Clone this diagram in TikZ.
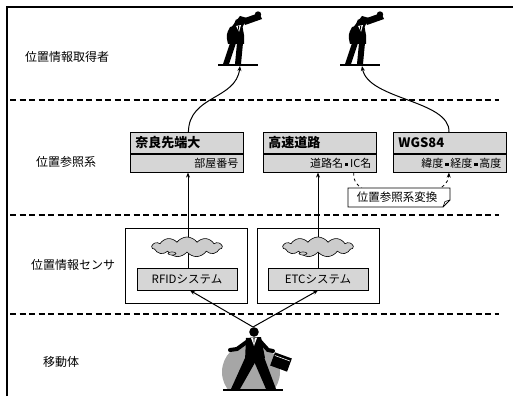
\documentclass[tikz,border=0pt]{standalone}
\usepackage{fontspec}
\setmainfont{Noto Sans CJK JP}
\usetikzlibrary{arrows.meta,shapes.symbols,calc}

\definecolor{boxgray}{HTML}{D6D6D6}
\definecolor{cloudgray}{HTML}{CCCCCC}
\definecolor{diskgray}{HTML}{A6A6A6}

\newcommand{\sq}{\,\rule[0.25ex]{0.3em}{0.3em}\,}

\tikzset{
  layerline/.style={dashed, line width=1.6pt, dash pattern=on 6pt off 3.5pt},
  framestyle/.style={line width=1.2pt},
  layerlabel/.style={font=\fontsize{12}{14}\selectfont, inner sep=0pt},
  titlebox/.style={draw, line width=0.8pt, fill=boxgray, minimum height=21pt,
    text width=103pt, inner xsep=5pt, align=left, font=\fontsize{13}{15}\selectfont\bfseries},
  subbox/.style={draw, line width=0.8pt, fill=boxgray, minimum height=18pt,
    text width=103pt, inner xsep=5pt, align=right, font=\fontsize{11}{13}\selectfont},
  outerbox/.style={draw, line width=0.8pt, minimum width=122pt, minimum height=75pt},
  sensorbox/.style={draw, line width=0.8pt, fill=boxgray, minimum width=100pt,
    minimum height=22pt, font=\fontsize{11.5}{13}\selectfont},
  cloudshape/.style={cloud, cloud puffs=11, cloud puff arc=110, aspect=3.5, draw,
    line width=0.6pt, fill=cloudgray, minimum width=70pt, minimum height=20pt, inner sep=0pt},
  arr/.style={line width=1pt, -{Stealth[length=5pt,width=4pt]}},
  pics/observer/.style={code={
    % platform
    \draw[line width=2pt] (-20,0) -- (20,0);
    % legs
    \fill (-15,-1) -- (-8,-22) -- (-2,-22) -- (-9,-1) -- cycle;
    \fill (-3,-1) -- (-1,-22) -- (5,-22) -- (3,-1) -- cycle;
    % torso
    \fill (-10,-21) .. controls (-12,-30) .. (-8,-38) -- (4,-41) -- (6,-30) -- (6,-21) -- cycle;
    % head
    \fill (1,-42) circle (4.5);
    % arms raised to the binoculars
    \fill (-8,-36) -- (2,-49) -- (9,-47) -- (2,-33) -- cycle;
    % binoculars
    \fill (4,-46) -- (21,-52) -- (24,-46) -- (7,-40) -- cycle;
    \fill (20,-50.5) circle (3.2);
    % shirt and tie
    \fill[white] (-2,-39) -- (3,-40) -- (1,-33) -- cycle;
    \fill (0,-39) -- (1.2,-39) -- (0.5,-33) -- cycle;
  }}
}

\begin{document}
\begin{tikzpicture}[x=1pt, y=-1pt]
\useasboundingbox (0,0) rectangle (513,396);

% outer frame (top and left edges)
\draw[framestyle] (7,396) -- (7,7) -- (513,7);

% layer separators
\draw[layerline] (10,100) -- (499,100);
\draw[layerline] (10,215) -- (499,215);
\draw[layerline] (10,314) -- (499,314);

% layer labels
\node[layerlabel] (lblObserver) at (67,57) {位置情報取得者};
\node[layerlabel] (lblRef) at (66,162) {位置参照系};
\node[layerlabel] (lblSensor) at (73,265) {位置情報センサ};
\node[layerlabel] (lblMobile) at (61,362) {移動体};

% observers
\pic (obsA) at (238,65) {observer};
\pic (obsB) at (360,65) {observer};
\coordinate (obsAfoot) at (240,66);
\coordinate (obsBfoot) at (362,66);

% reference systems
\node[titlebox, anchor=north west] (naraT) at (130,132) {奈良先端大};
\node[subbox, anchor=north] (naraS) at (naraT.south) {部屋番号};
\node[titlebox, anchor=north west] (hwT) at (263,132) {高速道路};
\node[subbox, anchor=north] (hwS) at (hwT.south) {道路名\sq IC名};
\node[titlebox, anchor=north west] (wgsT) at (393,132) {WGS84};
\node[subbox, anchor=north] (wgsS) at (wgsT.south) {緯度\sq 経度\sq 高度};

% arrows from reference systems to observers
\coordinate (naraTop) at ($(naraT.north)+(1.5,0)$);
\coordinate (wgsTop) at ($(wgsT.north west)+(56,0)$);
\draw[arr] (naraTop) .. controls (189,95) and (236,100) .. (obsAfoot);
\draw[arr] (wgsTop) .. controls (450,100) and (368,100) .. (obsBfoot);

% conversion between reference systems
\coordinate (convFrom) at ($(hwS.south east)+(-23,0)$);
\coordinate (convTo) at ($(wgsS.south west)+(56,0)$);
\draw[dashed, line width=0.8pt, -{Stealth[length=5pt,width=4pt]}]
  (convFrom) .. controls (349,205) and (447,205) .. (convTo);
\filldraw[fill=white, line width=0.8pt]
  (348,188) -- (450,188) -- (450,200) -- (443,207) -- (348,207) -- cycle;
\draw[line width=0.6pt] (443,207) -- (445,201.5) -- (450,200);
\node[font=\fontsize{11.5}{13}\selectfont, inner sep=0pt] (conv) at (397,197.5) {位置参照系変換};

% location sensors
\node[outerbox] (rfidBox) at (186,265.5) {};
\node[outerbox] (etcBox) at (318,265.5) {};
\node[sensorbox] (rfid) at (187,279) {RFIDシステム};
\node[sensorbox] (etc) at (318,279) {ETCシステム};

\draw[arr] ([xshift=1pt]rfid.north) -- ([xshift=1pt]rfid.north |- naraS.south);
\draw[arr] (etc.north) -- (etc.north |- hwS.south);

\node[cloudshape] (cloudA) at (187,247) {};
\node[cloudshape] (cloudB) at (318,247) {};
\draw[line width=0.5pt, fill=cloudgray] (172,253.5) ellipse (4 and 1.6);
\draw[line width=0.5pt, fill=cloudgray] (303,253.5) ellipse (4 and 1.6);

% moving body
\begin{scope}
  \clip (200,330) rectangle (300,390);
  \fill[diskgray] (251,372) circle (29);
\end{scope}
\draw[line width=2.2pt] (223,390) -- (283,390);
% legs
\fill (245,358) -- (257,359) -- (240,389) -- (231,389) -- cycle;
\fill (253,359) -- (264,357) -- (276,389) -- (266,389) -- cycle;
% torso
\fill (246,338) -- (261,337) -- (265,358) -- (245,361) -- cycle;
% arms
\draw[line width=4pt, line cap=round] (248,341) -- (237,349) -- (230,350);
\draw[line width=4pt, line cap=round] (259,340) -- (268,350) -- (273,351);
% briefcase
\fill[rotate around={-20:(281,362)}] (272,355) rectangle (290,369);
\draw[white, line width=0.6pt, rotate around={-20:(281,362)}] (273,358) -- (289,358);
% head
\coordinate (walkerHead) at (253,327);
\fill (254,332) circle (4.8);
% shirt and tie
\fill[white] (251,338) -- (257,338) -- (254,346) -- cycle;
\fill (253.4,338) -- (254.6,338) -- (254,345) -- cycle;

% arrows from the moving body to the sensors
\draw[arr] (walkerHead) -- ([xshift=3pt]rfid.south);
\draw[arr] (walkerHead) -- (etc.south);

\end{tikzpicture}
\end{document}
